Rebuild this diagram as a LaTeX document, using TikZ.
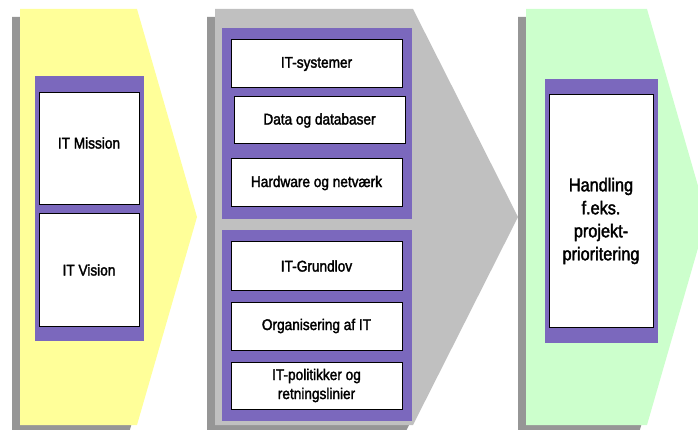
\documentclass[tikz,border=0pt]{standalone}
\usepackage{fontspec}
\setmainfont{Liberation Sans}
\newfontfamily\boxfont[FakeStretch=0.88,FakeBold=2]{Liberation Sans}

\definecolor{arrowyellow}{RGB}{255,255,153}
\definecolor{arrowgray}{RGB}{192,192,192}
\definecolor{arrowgreen}{RGB}{204,255,204}
\definecolor{shadowgray}{RGB}{150,150,150}
\definecolor{panelpurple}{RGB}{123,104,189}

\tikzset{
  itbox/.style={draw=black, line width=1pt, fill=white, align=center, inner sep=0pt,
    font=\boxfont\fontsize{15.5}{19}\selectfont},
  bigbox/.style={itbox, font=\boxfont\fontsize{18.5}{23}\selectfont},
}

\begin{document}
\begin{tikzpicture}[x=1pt, y=-1pt]
  \useasboundingbox (0,0) rectangle (698,430);
  \clip (0,0) rectangle (698,430);

  % Arrows: left edge / right edge / tip / colour
  \foreach \xl/\xr/\xt/\col in {20/137/197/arrowyellow, 215/413/518/arrowgray, 526/647/707/arrowgreen} {
    % shadow
    \fill[shadowgray] (\xl-8,17) -- (\xr-8,17) -- (\xt-8,225) -- (\xr-8,433) -- (\xl-8,433) -- cycle;
    % arrow body
    \fill[\col] (\xl,9) -- (\xr,9) -- (\xt,217) -- (\xr,425) -- (\xl,425) -- cycle;
  }

  % Purple panels
  \fill[panelpurple] (35,76) rectangle (144,341);
  \fill[panelpurple] (222,28) rectangle (412,219);
  \fill[panelpurple] (222,230) rectangle (412,421);
  \fill[panelpurple] (545,79) rectangle (658,343);

  % Column 1 (text sits a little above the middle of the box)
  \node[itbox, minimum width=100pt, minimum height=112pt,
    label={[font=\boxfont\fontsize{15.5}{19}\selectfont, yshift=6pt]center:IT Mission}] (mission) at (89,149) {};
  \node[itbox, minimum width=100pt, minimum height=113pt] (vision) at (89,270) {IT Vision};

  % Column 2, upper panel
  \node[itbox, minimum width=171pt, minimum height=48pt] (systemer) at (316.5,64) {IT-systemer};
  \node[itbox, minimum width=171pt, minimum height=47pt] (data) at (319.5,120.5) {Data og databaser};
  \node[itbox, minimum width=171pt, minimum height=48pt] (hardware) at (316.5,183) {Hardware og netværk};

  % Column 2, lower panel
  \node[itbox, minimum width=171pt, minimum height=48pt] (grundlov) at (316.5,266) {IT-Grundlov};
  \node[itbox, minimum width=171pt, minimum height=48pt] (organisering) at (316.5,326) {Organisering af IT};
  \node[itbox, minimum width=171pt, minimum height=47pt] (politik) at (316.5,385.5) {IT-politikker og\\retningslinier};

  % Column 3 (text sits a little below the middle of the box)
  \node[itbox, minimum width=104pt, minimum height=232pt,
    label={[align=center, font=\boxfont\fontsize{18.5}{23}\selectfont, yshift=-10pt]center:Handling\\f.eks.\\projekt-\\prioritering}] (handling) at (601,211) {};
\end{tikzpicture}
\end{document}
